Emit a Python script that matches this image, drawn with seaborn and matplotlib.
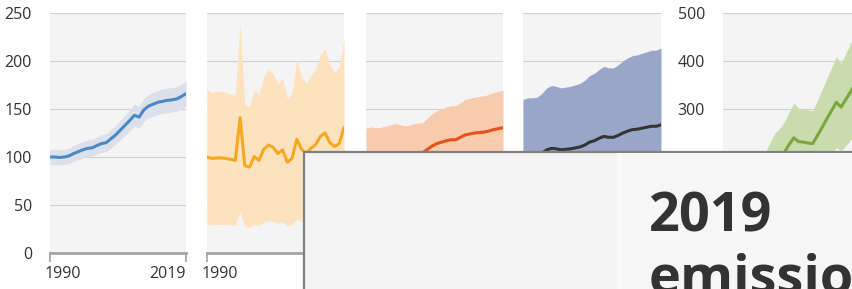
import numpy as np
import pandas as pd
import matplotlib.pyplot as plt
import seaborn as sns
from matplotlib.patches import Rectangle
from matplotlib.transforms import ScaledTranslation

# Data: emissions indexed to 1990 = 100, one series per gas
years = list(range(1990, 2020))
co2_ffi = [100, 100, 99.5, 100, 101, 103.5, 105.5, 107.5, 109, 109.5,
           112, 114, 115, 119, 123, 128, 133, 138, 143.5, 141.5,
           149, 153, 155, 157, 158, 159, 159.5, 160.5, 163, 166]
co2_lulucf = [100, 98.5, 99, 99, 98.5, 97.5, 96.5, 141, 91, 89.5,
              100.5, 96.5, 108, 112.5, 110, 103.5, 107.5, 94.5, 98.5, 118.5,
              108, 104, 109, 113, 121.5, 125, 115, 111, 114, 131]
ch4 = [100, 101, 100.5, 100.5, 101.5, 102.5, 103.5, 103, 102, 102,
       103.5, 104, 104.5, 108, 111.5, 114, 115.5, 117, 118, 118,
       120.5, 123, 124, 125, 125.5, 126, 127, 128.5, 129.5, 130.5]
n2o = [100, 101, 101, 101.5, 104, 107.5, 109, 108.5, 107.5, 108,
       108.5, 109.5, 110.5, 112.5, 115.5, 117, 119.5, 121.5, 120.5, 120.5,
       122.5, 125, 127, 128.5, 129, 130, 131, 132, 132, 133.5]
fgas = [100, 102, 106, 112, 120, 130, 138, 146, 152, 162,
        178, 192, 200, 210, 226, 240, 232, 231, 229, 228,
        245, 262, 280, 297, 314, 304, 320, 336, 352, 368]
# relative uncertainty range of each gas
uncertainty = [0.08, 0.7, 0.3, 0.6, 0.3]
series = [co2_ffi, co2_lulucf, ch4, n2o, fgas]
line_colors = ['#4a89c8', '#f6a821', '#e5531a', '#353535', '#7ba63c']
band_colors = ['#dbe0ea', '#fde2c0', '#f6cbae', '#9aa6c9', '#c8dcae']
y_max = [250, 250, 250, 250, 500]
xtick_labels = ['1990', '2019']

sns.set_theme(style='whitegrid', rc={'axes.facecolor': '#f4f4f4',
                                     'grid.color': '#d0d0d0',
                                     'grid.linewidth': 0.8})
plt.rcParams['font.family'] = ['Open Sans', 'DejaVu Sans']

fig = plt.figure(figsize=(8.52, 2.89), dpi=100)
W, H = 852, 289
lefts = [50, 207, 366, 523, 723]
widths = [136, 137, 137, 138, 137]

for i in range(5):
    ax = fig.add_axes([lefts[i] / W, 36 / H, widths[i] / W, 240 / H])
    vals = np.array(series[i])
    ax.fill_between(years, vals * (1 - uncertainty[i]), vals * (1 + uncertainty[i]),
                    color=band_colors[i], lw=0, zorder=1)
    sns.lineplot(x=years, y=vals, ax=ax, color=line_colors[i], lw=2.2, zorder=3)
    ax.set_xlim(1990, 2019)
    ax.set_ylim(0, y_max[i])
    ax.set_yticks(np.linspace(0, y_max[i], 6))
    ax.set_axisbelow(True)
    ax.grid(axis='x', visible=False)
    for s in ['left', 'right', 'top']:
        ax.spines[s].set_visible(False)
    ax.spines['bottom'].set_color('#a3a3a3')
    ax.spines['bottom'].set_linewidth(2)
    ax.set_xticks([1990, 2019])
    ax.set_xticklabels(xtick_labels)
    ax.tick_params(axis='x', bottom=True, length=6.5, width=1.2, color='#a3a3a3',
                   pad=3, labelsize=11.5, labelcolor='#333333')
    ax.tick_params(axis='y', left=False, pad=7, labelsize=11.5, labelcolor='#333333')
    if i in (1, 2, 3):
        ax.tick_params(axis='y', labelleft=False)
    lab0, lab1 = ax.get_xticklabels()
    lab0.set_ha('left')
    lab0.set_transform(lab0.get_transform() + ScaledTranslation(-5 / 100, 0, fig.dpi_scale_trans))
    lab1.set_ha('right')
    # labels that sit under the overlay panel are not shown
    if i >= 1:
        lab1.set_visible(False)
    if i >= 2:
        lab0.set_visible(False)
    if i == 4:
        for lab in ax.get_yticklabels()[:2]:
            lab.set_visible(False)
    ax.set_xlabel('')
    ax.set_ylabel('')

# overlay panel covering the lower right
fig.add_artist(Rectangle((304 / W, -0.2), 0.9, (289 - 152) / H + 0.2,
                         transform=fig.transFigure, facecolor='#f4f4f4',
                         edgecolor='#808080', lw=1.6, zorder=5))
fig.add_artist(Rectangle((617 / W, -0.2), 5 / W, (289 - 153) / H + 0.2,
                         transform=fig.transFigure, facecolor='#fbfbfb',
                         lw=0, zorder=6))
fig.add_artist(Rectangle((622 / W, -0.2), 0.5, (289 - 153) / H + 0.2,
                         transform=fig.transFigure, facecolor='#f6f6f6',
                         lw=0, zorder=6))
fig.text(649 / W, (289 - 231) / H, '2019', fontsize=39, fontweight='bold',
         color='#333333', va='baseline', ha='left', zorder=7)
fig.text(649 / W, (289 - 293) / H, 'emissions', fontsize=39, fontweight='bold',
         color='#333333', va='baseline', ha='left', zorder=7)

fig.savefig('out.png', dpi=100)
